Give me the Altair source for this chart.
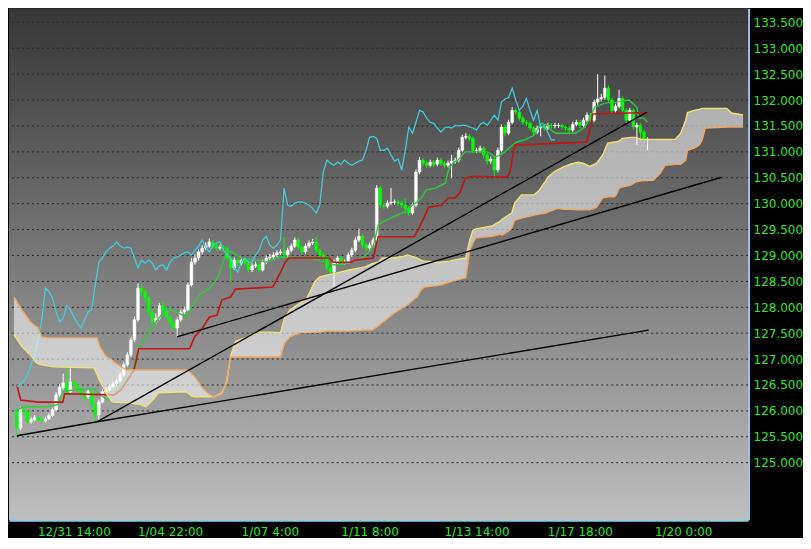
import json
import altair as alt
import pandas as pd

# ---------------- candles (one per bar) ----------------
closes = [125.67, 126.02, 125.98, 125.79, 125.83, 125.87, 125.83, 125.81, 125.85, 125.91,
          126.02, 126.31, 126.45, 126.54, 126.37, 126.56, 126.50, 126.41, 126.31, 126.27,
          126.37, 126.12, 125.92, 126.17, 126.37, 126.41, 126.47, 126.52, 126.58, 126.70,
          126.89, 127.08, 127.37, 127.76, 128.37, 128.30, 128.18, 127.91, 127.72, 127.79,
          128.03, 127.95, 127.81, 127.70, 127.60, 127.76, 127.91, 127.95, 128.43, 128.87,
          128.95, 129.07, 129.14, 129.18, 129.26, 129.18, 129.14, 129.16, 129.14, 128.95,
          128.76, 128.91, 128.85, 128.91, 128.85, 128.72, 128.80, 128.82, 128.72, 128.87,
          128.95, 128.97, 129.01, 129.05, 129.07, 129.01, 129.10, 129.18, 129.30, 129.16,
          129.07, 129.18, 129.24, 129.26, 129.10, 129.01, 128.95, 128.76, 128.68, 128.87,
          128.95, 128.87, 128.87, 129.01, 129.10, 129.30, 129.37, 129.20, 129.14, 129.20,
          129.30, 130.30, 129.97, 129.95, 130.01, 130.03, 130.03, 130.01, 129.97, 129.91,
          129.82, 129.97, 130.61, 130.84, 130.78, 130.74, 130.80, 130.76, 130.84, 130.78,
          130.74, 130.78, 130.82, 130.84, 131.03, 131.28, 131.30, 131.26, 131.03, 131.03,
          131.07, 130.94, 130.82, 130.86, 130.65, 131.03, 131.48, 131.36, 131.57, 131.80,
          131.77, 131.65, 131.57, 131.55, 131.46, 131.38, 131.46, 131.48, 131.46, 131.51,
          131.50, 131.51, 131.51, 131.48, 131.46, 131.42, 131.53, 131.57, 131.51, 131.61,
          131.71, 131.61, 131.96, 132.02, 132.05, 132.23, 132.00, 131.80, 131.88, 132.03,
          131.80, 131.61, 131.80, 131.48, 131.51, 131.38, 131.23, 131.23]

opens = [126.00, 125.67, 126.02, 125.98, 125.79, 125.83, 125.87, 125.83, 125.81, 125.85,
         125.91, 126.02, 126.31, 126.45, 126.54, 126.37, 126.56, 126.50, 126.41, 126.31,
         126.27, 126.37, 126.12, 125.92, 126.17, 126.37, 126.41, 126.47, 126.52, 126.58,
         126.70, 126.89, 127.08, 127.37, 127.76, 128.37, 128.30, 128.18, 127.91, 127.72,
         127.79, 128.03, 127.95, 127.81, 127.70, 127.60, 127.76, 127.91, 127.95, 128.43,
         128.87, 128.95, 129.07, 129.14, 129.18, 129.26, 129.18, 129.14, 129.16, 129.14,
         128.95, 128.76, 128.91, 128.85, 128.91, 128.85, 128.72, 128.80, 128.82, 128.72,
         128.87, 128.95, 128.97, 129.01, 129.05, 129.07, 129.01, 129.10, 129.18, 129.30,
         129.16, 129.07, 129.18, 129.24, 129.26, 129.10, 129.01, 128.95, 128.76, 128.68,
         128.87, 128.95, 128.87, 128.87, 129.01, 129.10, 129.30, 129.37, 129.20, 129.14,
         129.20, 129.30, 130.30, 129.97, 129.95, 130.01, 130.03, 130.03, 130.01, 129.97,
         129.91, 129.82, 129.97, 130.61, 130.84, 130.78, 130.74, 130.80, 130.76, 130.84,
         130.78, 130.74, 130.78, 130.82, 130.84, 131.03, 131.28, 131.30, 131.26, 131.03,
         131.03, 131.07, 130.94, 130.82, 130.86, 130.65, 131.03, 131.48, 131.36, 131.57,
         131.80, 131.77, 131.65, 131.57, 131.55, 131.46, 131.38, 131.46, 131.48, 131.46,
         131.51, 131.50, 131.51, 131.51, 131.48, 131.46, 131.42, 131.53, 131.57, 131.51,
         131.61, 131.71, 131.61, 131.96, 132.02, 132.05, 132.23, 132.00, 131.80, 131.88,
         132.03, 131.80, 131.61, 131.80, 131.48, 131.51, 131.38, 131.23]

highs = [126.05, 126.08, 126.06, 126.02, 125.88, 125.92, 125.90, 125.87, 125.89, 125.95,
         126.06, 126.36, 126.52, 126.72, 126.95, 126.82, 126.60, 126.54, 126.45, 126.36,
         126.42, 126.41, 126.16, 126.22, 126.42, 126.46, 126.52, 126.57, 126.63, 126.75,
         126.94, 127.13, 127.42, 127.82, 128.46, 128.44, 128.36, 128.22, 127.96, 127.88,
         128.08, 128.10, 127.99, 127.85, 127.74, 127.80, 127.96, 128.01, 128.48, 128.95,
         129.02, 129.12, 129.20, 129.25, 129.33, 129.30, 129.22, 129.21, 129.20, 129.18,
         128.99, 128.96, 128.95, 128.96, 128.95, 128.89, 128.85, 128.88, 128.86, 128.92,
         129.00, 129.03, 129.06, 129.10, 129.12, 129.35, 129.15, 129.23, 129.35, 129.34,
         129.20, 129.23, 129.29, 129.32, 129.36, 129.14, 129.05, 128.99, 128.80, 128.92,
         129.00, 128.99, 128.92, 129.06, 129.15, 129.35, 129.52, 129.41, 129.24, 129.25,
         129.35, 130.36, 130.34, 130.02, 130.06, 130.30, 130.08, 130.07, 130.05, 130.10,
         129.95, 130.02, 130.66, 130.90, 130.88, 130.83, 130.85, 130.84, 130.89, 130.88,
         130.82, 130.83, 130.94, 130.89, 131.08, 131.33, 131.36, 131.34, 131.30, 131.08,
         131.12, 131.11, 130.98, 130.91, 130.90, 131.08, 131.53, 131.52, 131.62, 131.86,
         131.84, 131.80, 131.69, 131.61, 131.59, 131.50, 131.51, 131.53, 131.52, 131.56,
         131.55, 131.56, 131.56, 131.54, 131.51, 131.50, 131.58, 131.62, 131.61, 131.66,
         131.76, 131.75, 132.01, 132.50, 132.12, 132.47, 132.28, 132.04, 131.93, 132.20,
         132.07, 131.84, 131.85, 131.84, 131.56, 131.55, 131.42, 131.28]

lows = [125.52, 125.62, 125.90, 125.74, 125.75, 125.80, 125.79, 125.77, 125.78, 125.82,
        125.88, 125.99, 126.27, 126.41, 126.33, 126.34, 126.46, 126.36, 126.27, 126.20,
        126.23, 126.05, 125.79, 125.83, 126.14, 126.32, 126.38, 126.43, 126.48, 126.55,
        126.66, 126.85, 127.04, 127.33, 127.72, 128.22, 128.10, 127.85, 127.66, 127.68,
        127.75, 127.90, 127.76, 127.62, 127.55, 127.43, 127.72, 127.87, 127.92, 128.40,
        128.82, 128.90, 129.02, 129.10, 129.14, 129.13, 129.09, 129.10, 129.08, 128.90,
        128.49, 128.72, 128.80, 128.81, 128.80, 128.67, 128.68, 128.76, 128.67, 128.69,
        128.83, 128.91, 128.93, 128.97, 129.01, 128.96, 128.97, 129.06, 129.14, 129.11,
        129.02, 129.03, 129.14, 129.20, 129.05, 128.96, 128.90, 128.70, 128.62, 128.40,
        128.82, 128.82, 128.82, 128.84, 128.97, 129.06, 129.26, 129.15, 129.09, 129.10,
        129.16, 129.26, 129.92, 129.90, 129.91, 129.97, 129.98, 129.96, 129.92, 129.80,
        129.76, 129.78, 129.93, 130.57, 130.72, 130.69, 130.70, 130.71, 130.72, 130.73,
        130.69, 130.70, 130.49, 130.77, 130.80, 130.99, 131.24, 131.21, 130.98, 130.98,
        130.99, 130.88, 130.76, 130.77, 130.50, 130.60, 130.99, 131.30, 131.32, 131.53,
        131.72, 131.60, 131.52, 131.50, 131.41, 131.33, 131.34, 131.30, 131.41, 131.42,
        131.45, 131.45, 131.46, 131.43, 131.41, 131.37, 131.38, 131.49, 131.46, 131.47,
        131.57, 131.56, 131.57, 131.91, 131.97, 132.00, 131.95, 131.75, 131.76, 131.84,
        131.75, 131.56, 131.57, 131.43, 131.13, 131.20, 131.18, 131.03]

# ---------------- Ichimoku lines (bar position, price) ----------------
tenkan_b = [0, 1.9, 8.2, 11.5, 12.9, 16.4, 21.9, 23.3, 25.8, 28.5, 31.2, 32.6, 33.4, 34.2, 39.5,
            42.2, 44.9, 47.7, 49.0, 51.2, 54.5, 56.7, 58.1, 58.9, 60.8, 63.6, 67.7, 69.9, 73.7, 81.9,
            84.7, 88.8, 91.0, 95.6, 97.3, 100.0, 101.4, 102.7, 105.5, 108.2, 111.0, 112.3, 113.7, 114.8, 117.5,
            120.3, 121.1, 122.5, 123.8, 125.8, 132.1, 134.2, 135.6, 137.0, 138.4, 140.3, 142.5, 145.2, 147.1, 149.0,
            149.9, 151.2, 156.7, 159.5, 160.8, 162.2, 164.9, 168.2, 171.8, 174.0, 174.5, 175.9, 177.0]
tenkan_p = [126.02, 126.08, 126.08, 126.12, 126.37, 126.41, 126.43, 126.31, 126.21, 126.41, 126.64, 126.79, 126.99, 127.22, 127.76,
            127.99, 127.91, 127.80, 128.01, 128.24, 128.39, 128.62, 128.91, 129.10, 129.05, 128.93, 128.91, 128.87, 128.97, 128.95,
            128.91, 128.82, 128.82, 128.91, 128.97, 129.16, 129.59, 129.65, 129.74, 129.82, 129.97, 130.03, 130.13, 130.26, 130.30,
            130.40, 130.65, 130.80, 130.84, 131.00, 131.00, 130.90, 130.94, 131.00, 131.09, 131.19, 131.23, 131.32, 131.55, 131.51,
            131.42, 131.36, 131.36, 131.48, 131.65, 131.86, 131.94, 131.96, 132.00, 131.86, 131.65, 131.65, 131.57]

kijun_b = [0, 1.1, 6.0, 12.9, 13.4, 27.4, 29.3, 32.9, 34.2, 48.5, 49.9, 52.1, 54.0, 56.2, 57.5,
           60.0, 61.4, 71.8, 72.6, 74.0, 75.3, 76.4, 87.7, 88.8, 93.7, 95.1, 100.0, 101.4, 111.5, 112.9,
           115.6, 119.2, 121.1, 123.0, 124.4, 125.8, 127.9, 137.5, 138.4, 139.7, 160.0, 160.8, 161.6, 177.0]
kijun_p = [126.50, 126.21, 126.17, 126.17, 126.33, 126.31, 126.41, 126.79, 127.20, 127.20, 127.43, 127.60, 127.81, 127.85, 128.14,
           128.20, 128.35, 128.39, 128.49, 128.68, 128.87, 128.95, 128.95, 128.87, 128.87, 128.91, 128.95, 129.36, 129.36, 129.53,
           129.93, 129.97, 130.11, 130.11, 130.22, 130.49, 130.53, 130.51, 130.61, 131.13, 131.19, 131.43, 131.73, 131.76]

cloud_b = [-0.8, 1.4, 3.8, 5.2, 6.0, 6.9, 8.8, 10.1, 21.6, 22.5, 23.3, 24.7, 25.2, 26.6, 27.1,
           29.3, 30.7, 34.8, 36.2, 38.1, 39.7, 47.1, 48.0, 49.0, 49.9, 52.1, 53.4, 55.3, 57.5, 58.6,
           58.9, 60.0, 61.4, 64.9, 67.7, 70.4, 74.0, 75.1, 76.7, 79.5, 81.4, 83.6, 84.9, 86.9, 89.6,
           93.2, 97.8, 99.7, 101.4, 102.5, 104.1, 106.0, 108.8, 109.6, 111.5, 112.3, 113.4, 114.3, 118.9, 121.6,
           122.5, 126.0, 127.1, 128.0, 128.8, 133.4, 135.6, 136.2, 138.4, 138.9, 139.7, 141.6, 145.2, 146.6, 148.5,
           149.0, 150.7, 151.8, 153.4, 155.3, 157.5, 158.9, 160.8, 162.7, 164.4, 165.8, 167.7, 168.2, 169.0, 169.9,
           172.3, 173.7, 175.3, 178.6, 180.6, 181.9, 184.7, 186.3, 187.7, 188.2, 190.1, 191.5, 192.3, 193.2, 199.2,
           200.6, 203.8]
span_a = [127.47, 127.24, 127.08, 126.95, 126.91, 126.89, 126.87, 126.85, 126.83, 126.71, 126.58, 126.41, 126.33, 126.19, 126.17,
          126.16, 126.16, 126.12, 126.08, 126.21, 126.35, 126.37, 126.35, 126.29, 126.27, 126.27, 126.27, 126.27, 126.35, 126.50,
          126.56, 127.06, 127.35, 127.43, 127.52, 127.52, 127.51, 127.79, 127.95, 128.08, 128.18, 128.49, 128.58, 128.62, 128.66,
          128.72, 128.78, 128.84, 128.87, 128.95, 128.95, 128.95, 128.99, 129.01, 128.97, 128.95, 128.91, 128.89, 128.87, 128.89,
          128.91, 128.95, 129.30, 129.49, 129.51, 129.57, 129.66, 129.70, 129.80, 129.82, 130.01, 130.17, 130.17, 130.26, 130.45,
          130.51, 130.61, 130.65, 130.71, 130.76, 130.80, 130.78, 130.72, 130.78, 130.94, 131.17, 131.19, 131.19, 131.21, 131.26,
          131.28, 131.28, 131.24, 131.24, 131.24, 131.24, 131.24, 131.36, 131.61, 131.76, 131.80, 131.82, 131.84, 131.84, 131.84,
          131.75, 131.71]
span_b = [128.20, 127.95, 127.72, 127.64, 127.60, 127.43, 127.41, 127.41, 127.41, 127.41, 127.24, 127.08, 127.04, 126.99, 126.95,
          126.85, 126.79, 126.79, 126.79, 126.79, 126.79, 126.79, 126.79, 126.71, 126.66, 126.44, 126.35, 126.27, 126.33, 126.50,
          126.60, 127.04, 127.04, 127.04, 127.04, 127.04, 127.04, 127.31, 127.43, 127.51, 127.51, 127.52, 127.52, 127.54, 127.54,
          127.54, 127.56, 127.56, 127.64, 127.70, 127.79, 127.89, 128.01, 128.04, 128.16, 128.20, 128.33, 128.39, 128.43, 128.49,
          128.51, 128.57, 129.10, 129.24, 129.34, 129.37, 129.41, 129.39, 129.49, 129.53, 129.68, 129.72, 129.78, 129.80, 129.82,
          129.84, 129.88, 129.91, 129.89, 129.89, 129.88, 129.88, 129.88, 129.93, 130.11, 130.13, 130.13, 130.17, 130.30, 130.32,
          130.36, 130.42, 130.44, 130.45, 130.59, 130.74, 130.76, 130.76, 130.84, 131.03, 131.07, 131.13, 131.23, 131.46, 131.48,
          131.48, 131.48]

# ---------------- hand-drawn trend lines ----------------
tl_b0 = [0, 22.5, 22.5, 44.9]
tl_p0 = [125.52, 125.79, 125.79, 127.43]
tl_b1 = [22.5, 177.3, 176.7, 197.8]
tl_p1 = [125.79, 127.56, 131.76, 130.51]

# ---------------- axes ----------------
price_ticks = [125.0, 125.5, 126.0, 126.5, 127.0, 127.5, 128.0, 128.5, 129.0,
               129.5, 130.0, 130.5, 131.0, 131.5, 132.0, 132.5, 133.0, 133.5]
time_ticks = [16, 43, 71, 99, 129, 158, 187]
time_labels = ["12/31 14:00", "1/04 22:00", "1/07 4:00", "1/11 8:00",
               "1/13 14:00", "1/17 18:00", "1/20 0:00"]

W, H = 740, 512
FONT = "DejaVu Sans"
LABEL_GREEN = "#2ee82e"
BORDER = "#8ecae6"

xs = alt.Scale(domain=[-0.8, 203.8], nice=False, zero=False)
ys = alt.Scale(domain=[123.90, 133.77], nice=False, zero=False)

label_expr = "{}[indexof({}, datum.value)]".format(json.dumps(time_labels), json.dumps(time_ticks))

x_axis = alt.Axis(values=time_ticks, labelExpr=label_expr, labelColor=LABEL_GREEN, labelFont=FONT,
                  labelFontSize=12, ticks=False, grid=False, domainColor=BORDER, domainWidth=3,
                  labelPadding=7, labelFlush=False, labelOverlap=False, title=None)
y_axis = alt.Axis(orient="right", values=price_ticks, format=".3f", labelColor=LABEL_GREEN,
                  labelFont=FONT, labelFontSize=12, ticks=False, grid=False, domainColor=BORDER,
                  domainWidth=3, labelPadding=5, labelFlush=False, labelOverlap=False, title=None)


def X(field):
    return alt.X(field, scale=xs, axis=x_axis)


def Y(field):
    return alt.Y(field, scale=ys, axis=y_axis)


candles = pd.DataFrame({"i": list(range(len(closes))), "open": opens, "high": highs,
                        "low": lows, "close": closes})
tenkan_df = pd.DataFrame({"b": tenkan_b, "p": tenkan_p})
kijun_df = pd.DataFrame({"b": kijun_b, "p": kijun_p})
cloud_df = pd.DataFrame({"b": cloud_b, "a": span_a, "bb": span_b})
tl_df = pd.DataFrame({"b0": tl_b0, "p0": tl_p0, "b1": tl_b1, "p1": tl_p1})
grid_df = pd.DataFrame({"p": price_ticks})

bg = alt.Chart(alt.Data(values=[{}])).mark_rect(
    color=alt.LinearGradient(
        gradient="linear", x1=0, x2=0, y1=0, y2=1,
        stops=[alt.GradientStop(color="#363636", offset=0),
               alt.GradientStop(color="#bebebe", offset=1)])
).encode(x=alt.value(0), x2=alt.value(W), y=alt.value(0), y2=alt.value(H))

grid = alt.Chart(grid_df).mark_rule(color="#2a2a2a", strokeDash=[2, 3], strokeWidth=1).encode(
    y=Y("p:Q"))

color_cond = alt.condition("datum.close >= datum.open", alt.value("#ffffff"), alt.value("#00ff00"))

wicks = alt.Chart(candles).mark_rule(strokeWidth=1).encode(
    x=X("i:Q"), y=Y("low:Q"), y2="high:Q", color=color_cond)

bodies = alt.Chart(candles).mark_bar(size=2.8, strokeWidth=0.5).encode(
    x=X("i:Q"), y=Y("open:Q"), y2="close:Q", color=color_cond, stroke=color_cond)

tenkan = alt.Chart(tenkan_df).mark_line(color="#2ccc3c", strokeWidth=1.4).encode(
    x=X("b:Q"), y=Y("p:Q"))

kijun = alt.Chart(kijun_df).mark_line(color="#c41414", strokeWidth=1.6).encode(
    x=X("b:Q"), y=Y("p:Q"))

chikou = alt.Chart(candles).transform_filter("datum.i >= 26").transform_calculate(
    cb="datum.i - 26"
).mark_line(color="#3ed2e2", strokeWidth=1.2).encode(x=X("cb:Q"), y=Y("close:Q"))

cloud = alt.Chart(cloud_df).mark_area(color="#ffffff", opacity=0.55).encode(
    x=X("b:Q"), y=Y("a:Q"), y2="bb:Q")

line_a = alt.Chart(cloud_df).mark_line(color="#f2e27a", strokeWidth=1.4).encode(
    x=X("b:Q"), y=Y("a:Q"))

line_b = alt.Chart(cloud_df).mark_line(color="#eea867", strokeWidth=1.4).encode(
    x=X("b:Q"), y=Y("bb:Q"))

trend = alt.Chart(tl_df).mark_rule(color="#000000", strokeWidth=1.4).encode(
    x=X("b0:Q"), x2="b1:Q", y=Y("p0:Q"), y2="p1:Q")

chart = alt.layer(
    bg, grid, wicks, bodies, tenkan, kijun, chikou, cloud, line_a, line_b, trend
).properties(width=W, height=H, padding=0).configure(background="#000000").configure_view(strokeWidth=0)

chart.save("out.html", embed_options={"renderer": "svg", "actions": False})
